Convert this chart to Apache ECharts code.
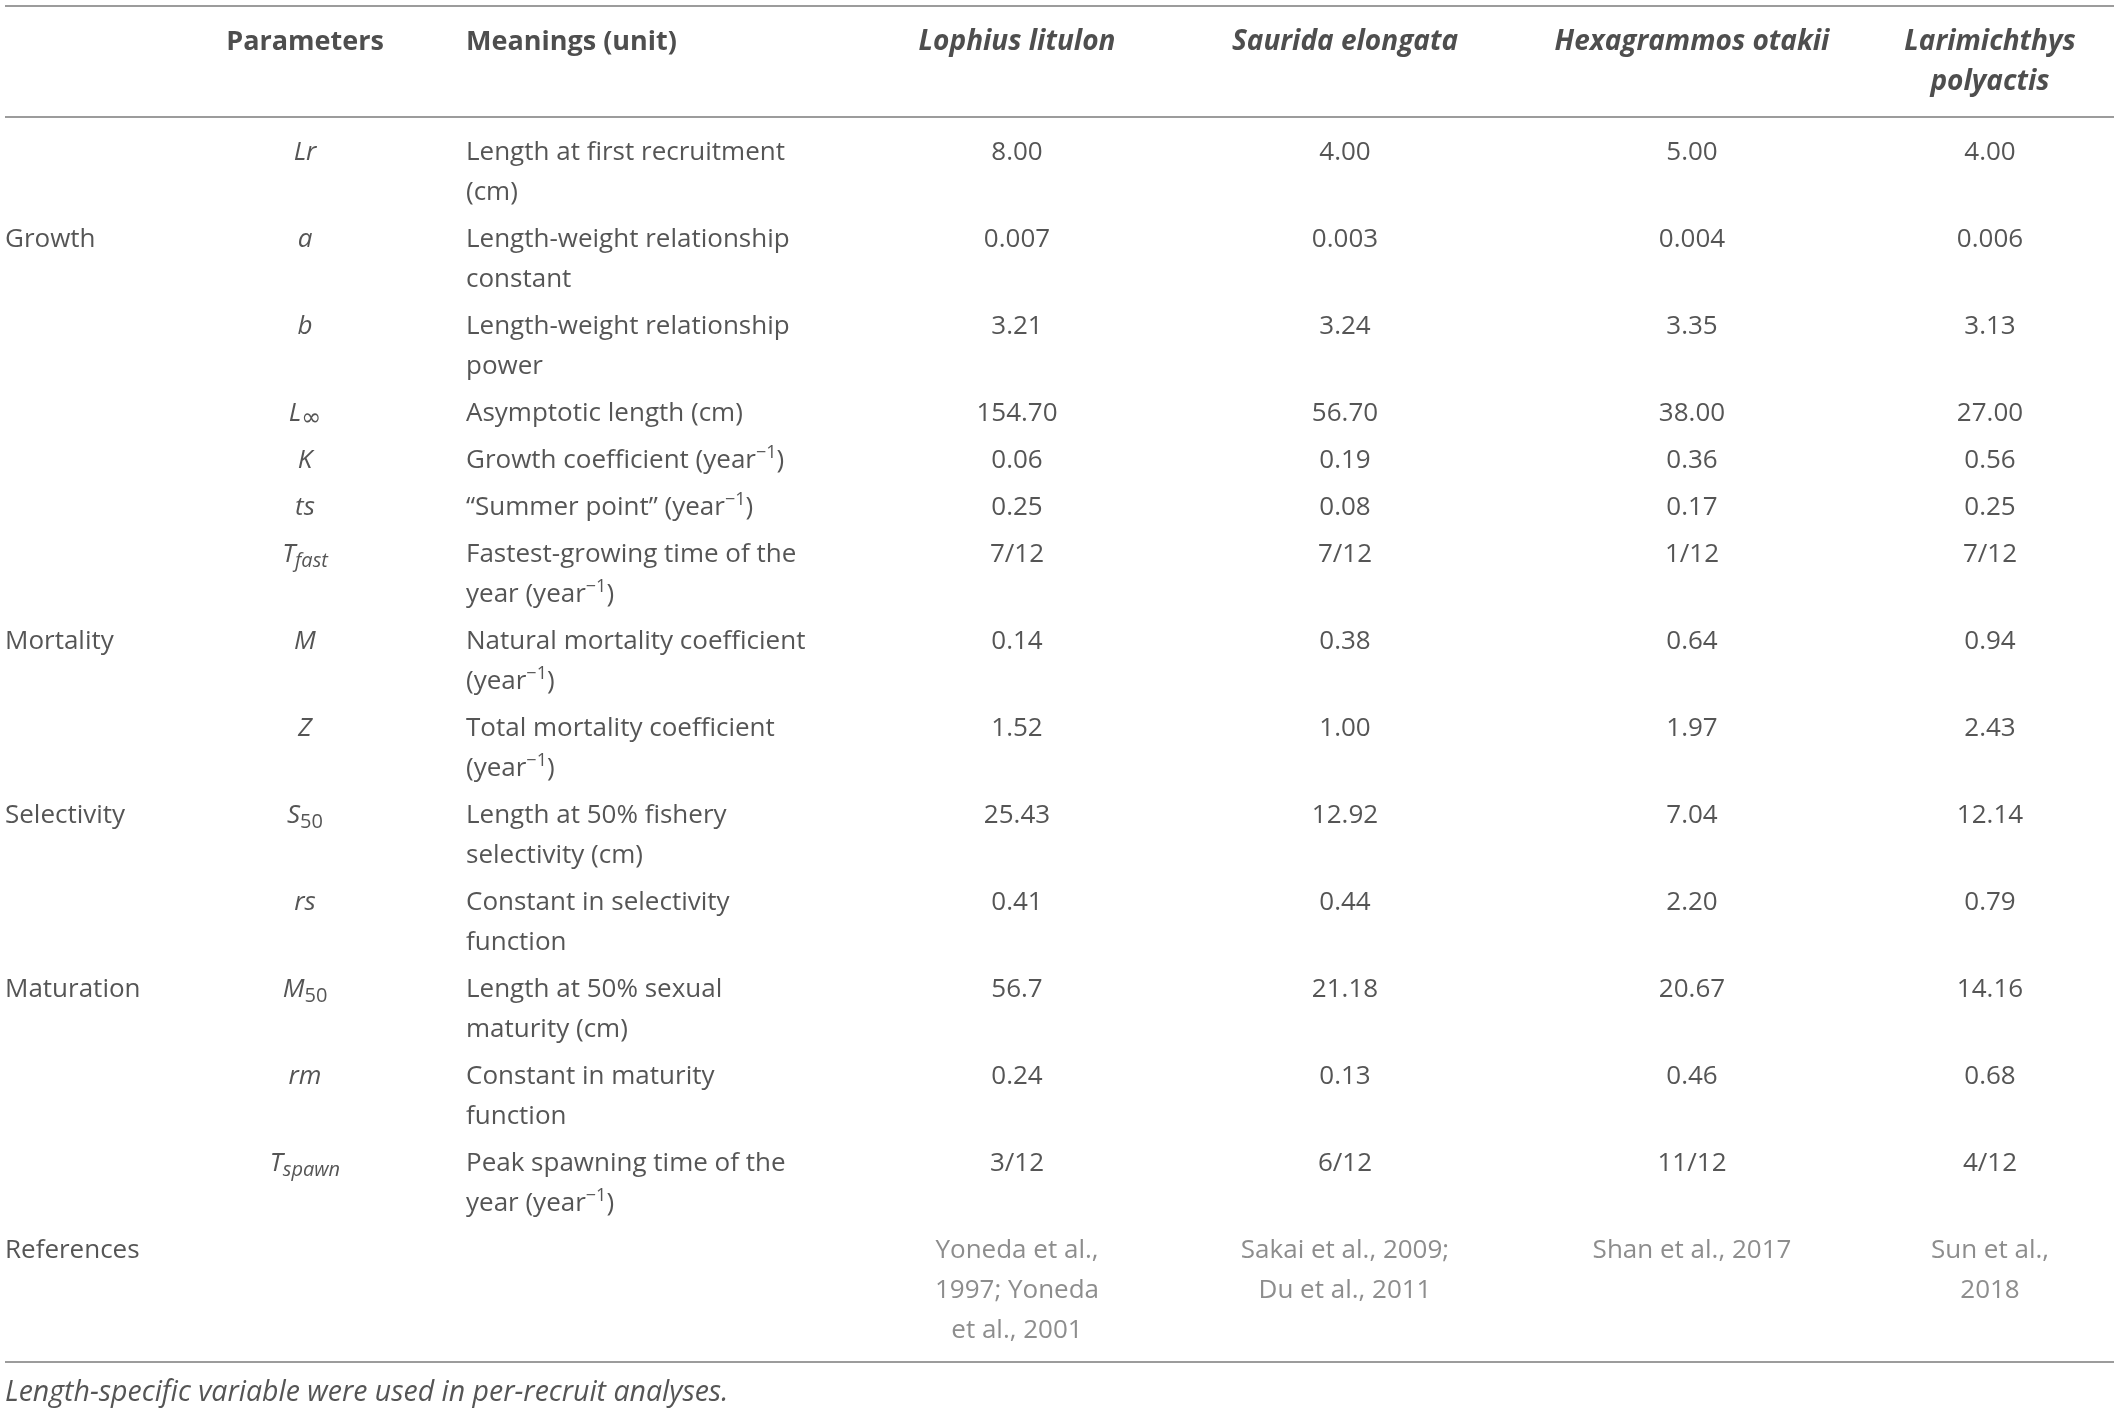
<!DOCTYPE html>
<html><head><meta charset="utf-8">
<script src="https://cdn.jsdelivr.net/npm/echarts@6/dist/echarts.min.js"></script>
<style>html,body{margin:0;padding:0;background:#fff;}#c{width:2117px;height:1411px;}</style>
</head><body><div id="c"></div>
<script>
// ---------------- data ----------------
const headerLabels = ['Parameters', 'Meanings (unit)'];
const speciesNames = ['Lophius litulon', 'Saurida elongata', 'Hexagrammos otakii', 'Larimichthys\npolyactis'];
const paramLabels = ['{i|Lr}', '{i|a}', '{i|b}', '{i|L}{inf|∞}', '{i|K}', '{i|ts}', '{i|T}{isub|fast}',
  '{i|M}', '{i|Z}', '{i|S}{sub|50}', '{i|rs}', '{i|M}{sub|50}', '{i|rm}', '{i|T}{isub|spawn}'];
const meanings = ['Length at first recruitment\n(cm)', 'Length-weight relationship\nconstant',
  'Length-weight relationship\npower', 'Asymptotic length (cm)', 'Growth coefficient (year{sup|−1})',
  '“Summer point” (year{sup|−1})', 'Fastest-growing time of the\nyear (year{sup|−1})',
  'Natural mortality coefficient\n(year{sup|−1})', 'Total mortality coefficient\n(year{sup|−1})',
  'Length at 50% fishery\nselectivity (cm)', 'Constant in selectivity\nfunction',
  'Length at 50% sexual\nmaturity (cm)', 'Constant in maturity\nfunction',
  'Peak spawning time of the\nyear (year{sup|−1})'];
const lophiusValues = ['8.00', '0.007', '3.21', '154.70', '0.06', '0.25', '7/12', '0.14', '1.52', '25.43', '0.41', '56.7', '0.24', '3/12'];
const sauridaValues = ['4.00', '0.003', '3.24', '56.70', '0.19', '0.08', '7/12', '0.38', '1.00', '12.92', '0.44', '21.18', '0.13', '6/12'];
const hexagrammosValues = ['5.00', '0.004', '3.35', '38.00', '0.36', '0.17', '1/12', '0.64', '1.97', '7.04', '2.20', '20.67', '0.46', '11/12'];
const larimichthysValues = ['4.00', '0.006', '3.13', '27.00', '0.56', '0.25', '7/12', '0.94', '2.43', '12.14', '0.79', '14.16', '0.68', '4/12'];
const groupNames = ['Growth', 'Mortality', 'Selectivity', 'Maturation'];
const groupRowIndex = [1, 7, 9, 11];
const referencesLabel = 'References';
const references = ['Yoneda et al.,\n1997; Yoneda\net al., 2001', 'Sakai et al., 2009;\nDu et al., 2011', 'Shan et al., 2017', 'Sun et al.,\n2018'];
const footnote = 'Length-specific variable were used in per-recruit analyses.';

// ---------------- layout (styles/positions) ----------------
const W = 2117, H = 1411;
const FONT = "'Open Sans', 'Liberation Sans', Arial, sans-serif";
const FS = 26, LINE = 40, ROWPAD = 7.0;
const TEXT = '#2a2a2a', REFTEXT = '#707070', RULE = '#9c9c9c';
const X_GROUP = 5, X_PARAM = 305, X_MEANING = 466;
const X_SPECIES = [1017, 1345, 1692, 1990];
const TABLE_L = 5, TABLE_R = 2114;
const RULE_TOP = 6, HEADER_TOP = 22, RULE_HEAD = 117, BODY_TOP = 133;
const speciesValues = [lophiusValues, sauridaValues, hexagrammosValues, larimichthysValues];

const nLines = s => s.split('\n').length;
// row tops computed from the number of text lines in each row
const rowTops = [];
let y = BODY_TOP;
for (let r = 0; r < paramLabels.length; r++) {
  rowTops.push(y);
  const lines = Math.max(nLines(meanings[r]), ...speciesValues.map(v => nLines(v[r])));
  y += lines * LINE + ROWPAD;
}
const refTop = y;
const refLines = Math.max(...references.map(nLines));
const RULE_BOTTOM = refTop + refLines * LINE + 11;
const FOOT_TOP = RULE_BOTTOM + 11;

const rich = {
  i: { fontStyle: 'italic', fontSize: FS, fontFamily: FONT, color: TEXT, lineHeight: LINE },
  inf: { fontSize: 24, fontFamily: "'DejaVu Sans', sans-serif", color: TEXT, verticalAlign: 'bottom', height: 30, lineHeight: 30 },
  sub: { fontSize: 20, fontFamily: FONT, color: TEXT, verticalAlign: 'bottom', height: 27, lineHeight: 27 },
  isub: { fontStyle: 'italic', fontSize: 20, fontFamily: FONT, color: TEXT, verticalAlign: 'bottom', height: 27, lineHeight: 27 },
  sup: { fontSize: 18, fontFamily: FONT, color: TEXT, verticalAlign: 'top', height: 24, lineHeight: 24 }
};

function textSeries(name, items, align, extra) {
  return {
    type: 'scatter', name, symbolSize: 1, silent: true,
    itemStyle: { color: 'rgba(0,0,0,0)' },
    data: items.map(it => ({ value: [it[0], it[1]], text: it[2] })),
    label: Object.assign({
      show: true, position: 'inside', align, verticalAlign: 'top',
      formatter: p => p.data.text,
      fontFamily: FONT, fontSize: FS, lineHeight: LINE, color: TEXT, rich
    }, extra || {})
  };
}

const headerItems = [[X_PARAM, HEADER_TOP, headerLabels[0]]];
const headerLeftItems = [[X_MEANING, HEADER_TOP, headerLabels[1]]];
const speciesHeaderItems = speciesNames.map((s, k) => [X_SPECIES[k], HEADER_TOP, s]);
const paramItems = paramLabels.map((s, r) => [X_PARAM, rowTops[r], s]);
const meaningItems = meanings.map((s, r) => [X_MEANING, rowTops[r], s]);
const valueItems = [];
speciesValues.forEach((arr, k) => arr.forEach((v, r) => valueItems.push([X_SPECIES[k], rowTops[r], v])));
const groupItems = groupNames.map((g, n) => [X_GROUP, rowTops[groupRowIndex[n]], g]);
groupItems.push([X_GROUP, refTop, referencesLabel]);
const refItems = references.map((s, k) => [X_SPECIES[k], refTop, s]);
const footItems = [[X_GROUP, FOOT_TOP, footnote]];

const ruleYs = [RULE_TOP, RULE_HEAD, RULE_BOTTOM];

const option = {
  animation: false,
  backgroundColor: '#ffffff',
  grid: { left: 0, right: 0, top: 0, bottom: 0 },
  xAxis: { type: 'value', min: 0, max: W, show: false },
  yAxis: { type: 'value', min: 0, max: H, inverse: true, show: false },
  series: [
    {
      type: 'line', data: [], silent: true,
      markLine: {
        silent: true, symbol: ['none', 'none'], label: { show: false },
        lineStyle: { color: RULE, width: 2, type: 'solid' },
        data: ruleYs.map(ry => [{ coord: [TABLE_L, ry] }, { coord: [TABLE_R, ry] }])
      }
    },
    textSeries('header', headerItems, 'center', { fontWeight: 'bold', fontSize: 27, color: '#222' }),
    textSeries('headerLeft', headerLeftItems, 'left', { fontWeight: 'bold', fontSize: 27, color: '#222' }),
    textSeries('species', speciesHeaderItems, 'center', { fontWeight: 'bold', fontStyle: 'italic', fontSize: 28, color: '#222' }),
    textSeries('params', paramItems, 'center'),
    textSeries('meanings', meaningItems, 'left'),
    textSeries('values', valueItems, 'center'),
    textSeries('groups', groupItems, 'left'),
    textSeries('refs', refItems, 'center', { color: REFTEXT }),
    textSeries('foot', footItems, 'left', { fontStyle: 'italic', fontSize: 28.5 })
  ]
};
const chart = echarts.init(document.getElementById('c'));
chart.setOption(option);
</script>
</body></html>
